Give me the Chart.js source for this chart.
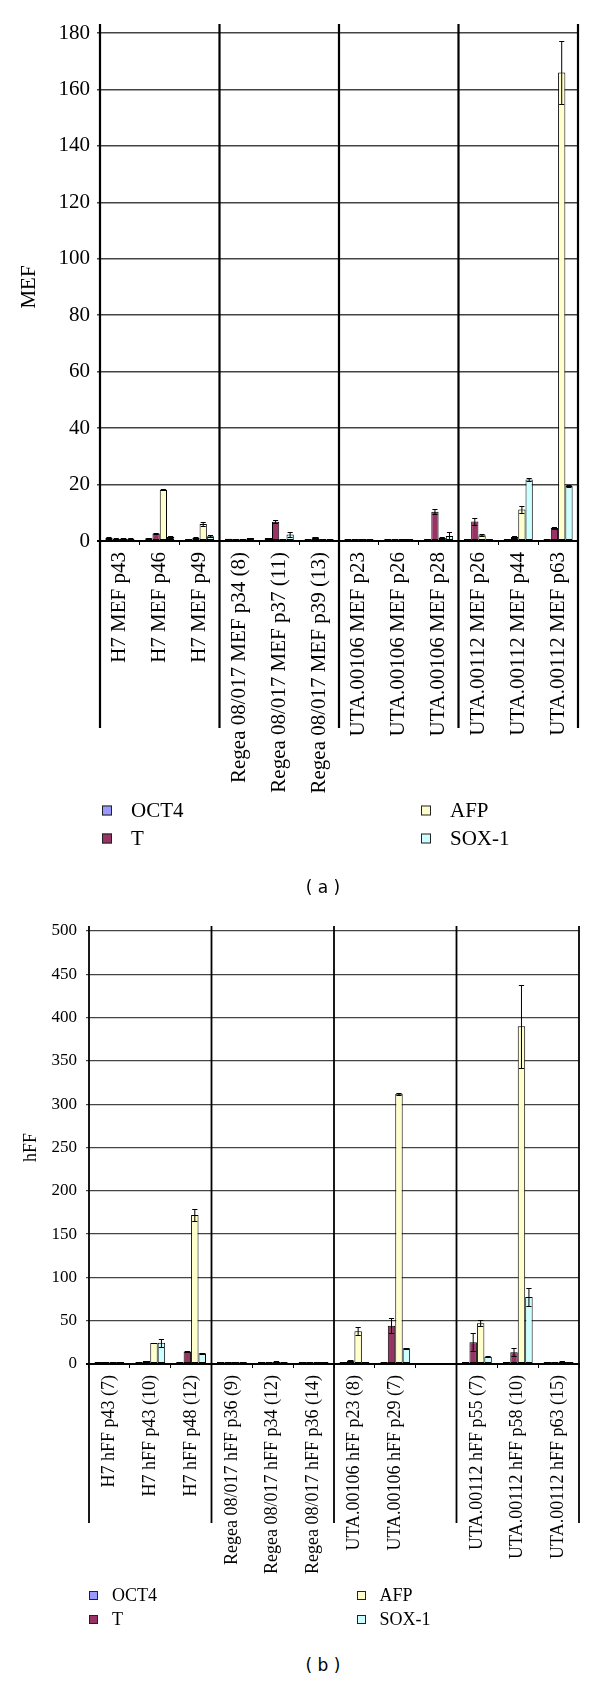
<!DOCTYPE html>
<html>
<head>
<meta charset="utf-8">
<title>MEF / hFF marker expression</title>
<script src="https://cdn.jsdelivr.net/npm/chart.js@4.4.0/dist/chart.umd.min.js"></script>
<style>
  html, body { margin: 0; padding: 0; background: #fff; }
  #page { position: relative; width: 600px; height: 1681px; overflow: hidden; }
  canvas { position: absolute; left: 0; }
  .legend-item { position: absolute; display: flex; align-items: center; transform: translateY(-50%);
    font-family: "Liberation Serif", serif; color: #000; line-height: 1; white-space: nowrap; }
  .legend-item i { display: inline-block; box-sizing: border-box; border: 1px solid #222; }
  .caption { position: absolute; width: 80px; margin-left: -40px; text-align: center; transform: translateY(-50%);
    font-family: "DejaVu Sans", sans-serif; font-size: 17px; color: #000; white-space: pre; }
</style>
</head>
<body>
<div id="page">
  <canvas id="mefChart" width="600" height="860" style="top:0"></canvas>
  <canvas id="hffChart" width="600" height="720" style="top:895px"></canvas>
  <div class="caption" style="left:323px; top:887px">( a )</div>
  <div class="caption" style="left:323px; top:1665px">( b )</div>
</div>
<script>
const seriesNames = ['OCT4', 'T', 'AFP', 'SOX-1'];
const seriesColors = ['#9999FF', '#993366', '#FFFFCC', '#CCFFFF'];

// (a) MEF
const mefLabels = [
  'H7 MEF p43', 'H7 MEF p46', 'H7 MEF p49',
  'Regea 08/017 MEF p34 (8)', 'Regea 08/017 MEF p37 (11)', 'Regea 08/017 MEF p39 (13)',
  'UTA.00106 MEF p23', 'UTA.00106 MEF p26', 'UTA.00106 MEF p28',
  'UTA.00112 MEF p26', 'UTA.00112 MEF p44', 'UTA.00112 MEF p63'
];
const mefOct4 = [1.1, 1.0, 0.7, 0.8, 1.1, 0.6, 0.5, 0.5, 0.6, 0.6, 0.5, 0.7];
const mefT    = [0.8, 2.7, 1.1, 0.1, 6.8, 1.3, 0.1, 0.2, 10.4, 6.9, 1.4, 4.6];
const mefAfp  = [0.9, 18.2, 6.0, 0.1, 0.2, 0.1, 0.1, 0.6, 1.1, 2.0, 11.2, 166];
const mefSox  = [0.8, 1.4, 1.7, 1.1, 2.3, 0.1, 0.4, 0.1, 1.8, 0.7, 21.8, 19.5];
const mefOct4Err = [0.2, 0.1, 0.1, 0, 0.1, 0, 0, 0, 0, 0, 0, 0];
const mefTErr    = [0.2, 0.3, 0.2, 0, 0.5, 0.2, 0, 0, 0.9, 1.1, 0.2, 0.5];
const mefAfpErr  = [0.2, 0.2, 0.8, 0, 0, 0, 0, 0.1, 0.3, 0.4, 1.2, 11];
const mefSoxErr  = [0.1, 0.2, 0.3, 0, 0.8, 0, 0, 0, 1.3, 0.1, 0.4, 0.3];
const mefMax = 180, mefStep = 20;

// (b) hFF
const hffLabels = [
  'H7 hFF p43 (7)', 'H7 hFF p43 (10)', 'H7 hFF p48 (12)',
  'Regea 08/017 hFF p36 (9)', 'Regea 08/017 hFF p34 (12)', 'Regea 08/017 hFF p36 (14)',
  'UTA.00106 hFF p23 (8)', 'UTA.00106 hFF p29 (7)', '',
  'UTA.00112 hFF p55 (7)', 'UTA.00112 hFF p58 (10)', 'UTA.00112 hFF p63 (15)'
];
const hffOct4 = [0.5, 0.4, 0.5, 0.8, 0.3, 0.4, 0.5, 0.3, null, 0.5, 0.5, 0.3];
const hffT    = [1.0, 3.5, 14.5, 0.2, 0.5, 0.2, 3.9, 44.3, null, 25.1, 13.7, 1.8];
const hffAfp  = [0.3, 24.3, 172, 0.2, 2.5, 0.2, 37.8, 312, null, 47, 390, 2.5];
const hffSox  = [1.2, 24.6, 12.5, 0.7, 0.3, 0.3, 0.3, 18.1, null, 8.5, 77.3, 0.4];
const hffOct4Err = [0, 0, 0, 0, 0, 0, 0, 0, null, 0, 0, 0];
const hffTErr    = [0, 0.5, 1, 0, 0, 0, 0.5, 9, null, 10.5, 4.5, 0.3];
const hffAfpErr  = [0, 0, 6.5, 0, 0.8, 0, 4.6, 0.8, null, 3.5, 48, 0.5];
const hffSoxErr  = [0, 4.4, 0.5, 0, 0, 0, 0, 0.5, null, 0.5, 10.5, 0];
const hffMax = 500, hffStep = 50;

// long vertical lines between the groups of three, running down through the labels
const groupLines = {
  id: 'groupLines',
  afterDraw(chart, args, opts) {
    const { ctx, chartArea } = chart;
    const x = chart.scales.x;
    ctx.save();
    ctx.strokeStyle = '#000';
    ctx.lineWidth = opts.width;
    for (let i = 0; i <= x.getLabels().length; i += 3) {
      const px = x.getPixelForValue(i - 0.5);
      ctx.beginPath();
      ctx.moveTo(px, chartArea.top - opts.above);
      ctx.lineTo(px, chartArea.bottom + opts.below);
      ctx.stroke();
    }
    ctx.restore();
  }
};

const errorBars = {
  id: 'errorBars',
  afterDatasetsDraw(chart) {
    const { ctx } = chart;
    const y = chart.scales.y;
    ctx.save();
    ctx.strokeStyle = '#000';
    ctx.lineWidth = 1;
    chart.data.datasets.forEach((ds, i) => {
      if (!ds.errors) return;
      chart.getDatasetMeta(i).data.forEach((bar, j) => {
        const e = ds.errors[j];
        const v = ds.data[j];
        if (!e || v == null) return;
        const top = Math.round(y.getPixelForValue(v + e)) + 0.5;
        const bot = Math.round(y.getPixelForValue(Math.max(v - e, 0))) + 0.5;
        const half = bar.width * 0.35;
        ctx.beginPath();
        ctx.moveTo(bar.x, top); ctx.lineTo(bar.x, bot);
        ctx.moveTo(bar.x - half, top); ctx.lineTo(bar.x + half, top);
        ctx.moveTo(bar.x - half, bot); ctx.lineTo(bar.x + half, bot);
        ctx.stroke();
      });
    });
    ctx.restore();
  }
};

function serif(size) {
  return { family: 'Liberation Serif', size: size, weight: 'normal' };
}

function buildChart(id, cfg) {
  const datasets = cfg.series.map((s, i) => ({
    label: seriesNames[i],
    data: s[0],
    errors: s[1],
    backgroundColor: seriesColors[i],
    borderColor: '#000',
    borderWidth: 1,
    borderSkipped: false,
    minBarLength: 2,
    categoryPercentage: 0.73,
    barPercentage: 1,
  }));

  return new Chart(document.getElementById(id), {
    type: 'bar',
    data: { labels: cfg.labels, datasets },
    options: {
      responsive: false,
      animation: false,
      layout: { padding: { top: cfg.top, right: cfg.right, left: 0, bottom: 0 } },
      plugins: {
        legend: { display: false },
        tooltip: { enabled: false },
        groupLines: { width: cfg.lineWidth, above: cfg.above, below: cfg.below },
      },
      scales: {
        x: {
          ticks: {
            color: '#000', font: serif(cfg.labelSize),
            maxRotation: 90, minRotation: 90, autoSkip: false, padding: 7,
          },
          grid: { drawOnChartArea: false, tickLength: 4, color: '#000', lineWidth: 1 },
          border: { color: '#000', width: 2 },
          afterFit: (s) => { s.height = cfg.xHeight; },
        },
        y: {
          min: 0,
          max: cfg.max,
          ticks: { stepSize: cfg.step, color: '#000', font: serif(cfg.tickSize), padding: cfg.tickPad },
          grid: {
            color: (c) => (c.tick && c.tick.value === 0 ? '#000' : '#444'),
            lineWidth: (c) => (c.tick && c.tick.value === 0 ? 2 : cfg.gridWidth),
            tickLength: 3,
          },
          border: { display: false },
          title: { display: true, text: cfg.title, color: '#000', font: serif(cfg.titleSize), padding: { top: cfg.titlePad } },
          afterFit: (s) => { s.width = cfg.yWidth; },
        },
      },
    },
    plugins: [groupLines, errorBars],
  });
}

function buildLegend(chart, spec) {
  const page = document.getElementById('page');
  chart.data.datasets.forEach((ds, i) => {
    const col = Math.floor(i / 2);
    const row = i % 2;
    const item = document.createElement('div');
    item.className = 'legend-item';
    item.style.left = (spec.cols[col] - spec.box / 2) + 'px';
    item.style.top = spec.rows[row] + 'px';
    item.style.fontSize = spec.font + 'px';
    const sw = document.createElement('i');
    sw.style.width = spec.box + 'px';
    sw.style.height = spec.box + 'px';
    sw.style.background = ds.backgroundColor;
    sw.style.marginRight = spec.gap + 'px';
    item.appendChild(sw);
    item.appendChild(document.createTextNode(ds.label));
    page.appendChild(item);
  });
}

const mefChart = buildChart('mefChart', {
  labels: mefLabels,
  series: [[mefOct4, mefOct4Err], [mefT, mefTErr], [mefAfp, mefAfpErr], [mefSox, mefSoxErr]],
  max: mefMax, step: mefStep, title: 'MEF',
  top: 33, right: 22, yWidth: 100, xHeight: 319,
  labelSize: 21, tickSize: 21, titleSize: 21, titlePad: 17, tickPad: 7,
  gridWidth: 1.5, lineWidth: 2.2, above: 9, below: 187,
});

const hffChart = buildChart('hffChart', {
  labels: hffLabels,
  series: [[hffOct4, hffOct4Err], [hffT, hffTErr], [hffAfp, hffAfpErr], [hffSox, hffSoxErr]],
  max: hffMax, step: hffStep, title: 'hFF',
  top: 36, right: 21, yWidth: 89, xHeight: 251,
  labelSize: 18, tickSize: 17, titleSize: 18, titlePad: 20, tickPad: 9,
  gridWidth: 1.2, lineWidth: 1.8, above: 5, below: 159,
});

buildLegend(mefChart, { cols: [107, 426], rows: [810, 838], box: 10, gap: 19, font: 21 });
buildLegend(hffChart, { cols: [93.5, 361], rows: [1595, 1619], box: 9, gap: 14, font: 18 });
</script>
</body>
</html>
